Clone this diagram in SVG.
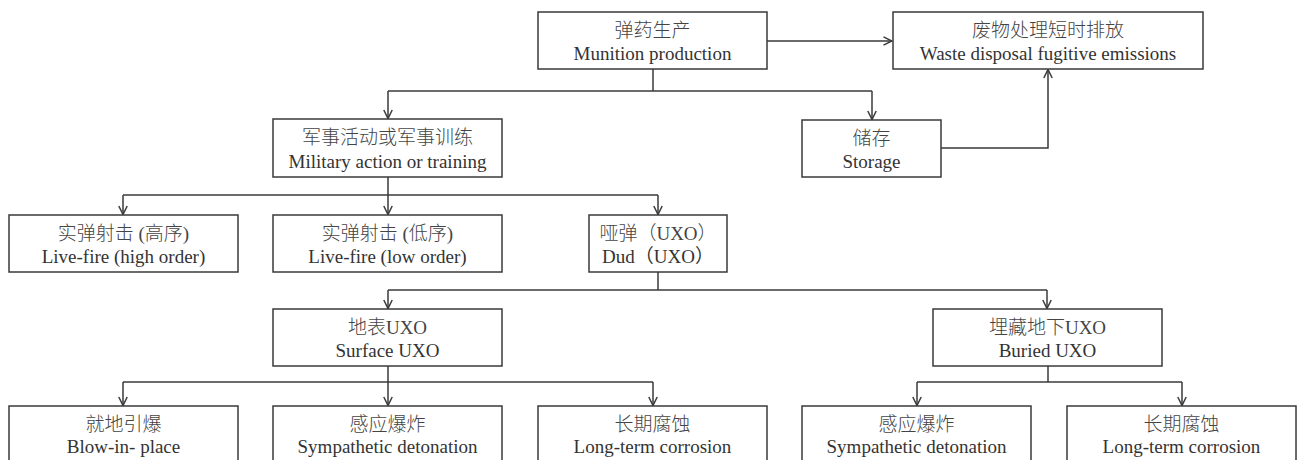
<svg xmlns="http://www.w3.org/2000/svg" width="1299" height="460" viewBox="0 0 1299 460">
<style>
.box{fill:#fff;stroke:#3a3a3a;stroke-width:1.5}
.t{font-family:"Liberation Serif","Noto Sans CJK SC",serif;font-size:19px;fill:#333;text-anchor:middle}
.c{font-family:"Liberation Serif","Noto Sans CJK SC",serif;font-size:19px;font-weight:300;fill:#444;text-anchor:middle}
.ln{fill:none;stroke:#3a3a3a;stroke-width:1.5}
</style>
<defs>
<marker id="ah" viewBox="0 0 10 10" refX="9.5" refY="5" markerWidth="10" markerHeight="10" markerUnits="userSpaceOnUse" orient="auto">
<path d="M1,0.8 L9.5,5 L1,9.2" fill="none" stroke="#3a3a3a" stroke-width="1.5"/>
</marker>
</defs>
<rect width="1299" height="460" fill="#fff"/>
<g id="connectors" class="ln">
<path d="M767,41 H892" marker-end="url(#ah)"/>
<path d="M653,69 V91"/>
<path d="M388,91 H872"/>
<path d="M388,91 V118.5" marker-end="url(#ah)"/>
<path d="M872,91 V119.5" marker-end="url(#ah)"/>
<path d="M941,148 H1048 V69.5" marker-end="url(#ah)"/>
<path d="M388,177 V195"/>
<path d="M123,195 H658"/>
<path d="M123,195 V214.5" marker-end="url(#ah)"/>
<path d="M388,195 V214.5" marker-end="url(#ah)"/>
<path d="M658,195 V214.5" marker-end="url(#ah)"/>
<path d="M658,272 V290"/>
<path d="M388,290 H1047"/>
<path d="M388,290 V308.5" marker-end="url(#ah)"/>
<path d="M1047,290 V308.5" marker-end="url(#ah)"/>
<path d="M388,366 V382"/>
<path d="M123,382 H653"/>
<path d="M123,382 V405.5" marker-end="url(#ah)"/>
<path d="M388,382 V405.5" marker-end="url(#ah)"/>
<path d="M653,382 V405.5" marker-end="url(#ah)"/>
<path d="M1048,366 V382"/>
<path d="M917,382 H1182"/>
<path d="M917,382 V405.5" marker-end="url(#ah)"/>
<path d="M1182,382 V405.5" marker-end="url(#ah)"/>
</g>
<g id="munition"><rect class="box" x="538" y="12" width="229" height="57"/><text class="c" x="652.5" y="37">弹药生产</text><text class="t" x="652.5" y="60">Munition production</text></g>
<g id="waste"><rect class="box" x="893" y="12" width="310" height="57"/><text class="c" x="1048" y="37">废物处理短时排放</text><text class="t" x="1048" y="60">Waste disposal fugitive emissions</text></g>
<g id="military"><rect class="box" x="273" y="119" width="229" height="58"/><text class="c" x="387.5" y="144">军事活动或军事训练</text><text class="t" x="387.5" y="168">Military action or training</text></g>
<g id="storage"><rect class="box" x="802" y="120" width="139" height="57"/><text class="c" x="871.5" y="145">储存</text><text class="t" x="871.5" y="168">Storage</text></g>
<g id="highorder"><rect class="box" x="9" y="215" width="229" height="57"/><text class="c" x="123.5" y="240">实弹射击 (高序)</text><text class="t" x="123.5" y="263">Live-fire (high order)</text></g>
<g id="loworder"><rect class="box" x="273" y="215" width="229" height="57"/><text class="c" x="387.5" y="240">实弹射击 (低序)</text><text class="t" x="387.5" y="263">Live-fire (low order)</text></g>
<g id="dud"><rect class="box" x="589" y="215" width="138" height="57"/><text class="c" x="658" y="240">哑弹（UXO）</text><text class="t" x="658" y="263">Dud（UXO）</text></g>
<g id="surface"><rect class="box" x="273" y="309" width="229" height="57"/><text class="c" x="387.5" y="334">地表UXO</text><text class="t" x="387.5" y="357">Surface UXO</text></g>
<g id="buried"><rect class="box" x="933" y="309" width="229" height="57"/><text class="c" x="1047.5" y="334">埋藏地下UXO</text><text class="t" x="1047.5" y="357">Buried UXO</text></g>
<g id="blow"><rect class="box" x="9" y="406" width="229" height="60"/><text class="c" x="123.5" y="431">就地引爆</text><text class="t" x="123.5" y="453">Blow-in- place</text></g>
<g id="symp1"><rect class="box" x="273" y="406" width="229" height="60"/><text class="c" x="387.5" y="431">感应爆炸</text><text class="t" x="387.5" y="453">Sympathetic detonation</text></g>
<g id="corr1"><rect class="box" x="538" y="406" width="229" height="60"/><text class="c" x="652.5" y="431">长期腐蚀</text><text class="t" x="652.5" y="453">Long-term corrosion</text></g>
<g id="symp2"><rect class="box" x="802" y="406" width="229" height="60"/><text class="c" x="916.5" y="431">感应爆炸</text><text class="t" x="916.5" y="453">Sympathetic detonation</text></g>
<g id="corr2"><rect class="box" x="1067" y="406" width="229" height="60"/><text class="c" x="1181.5" y="431">长期腐蚀</text><text class="t" x="1181.5" y="453">Long-term corrosion</text></g>
</svg>
